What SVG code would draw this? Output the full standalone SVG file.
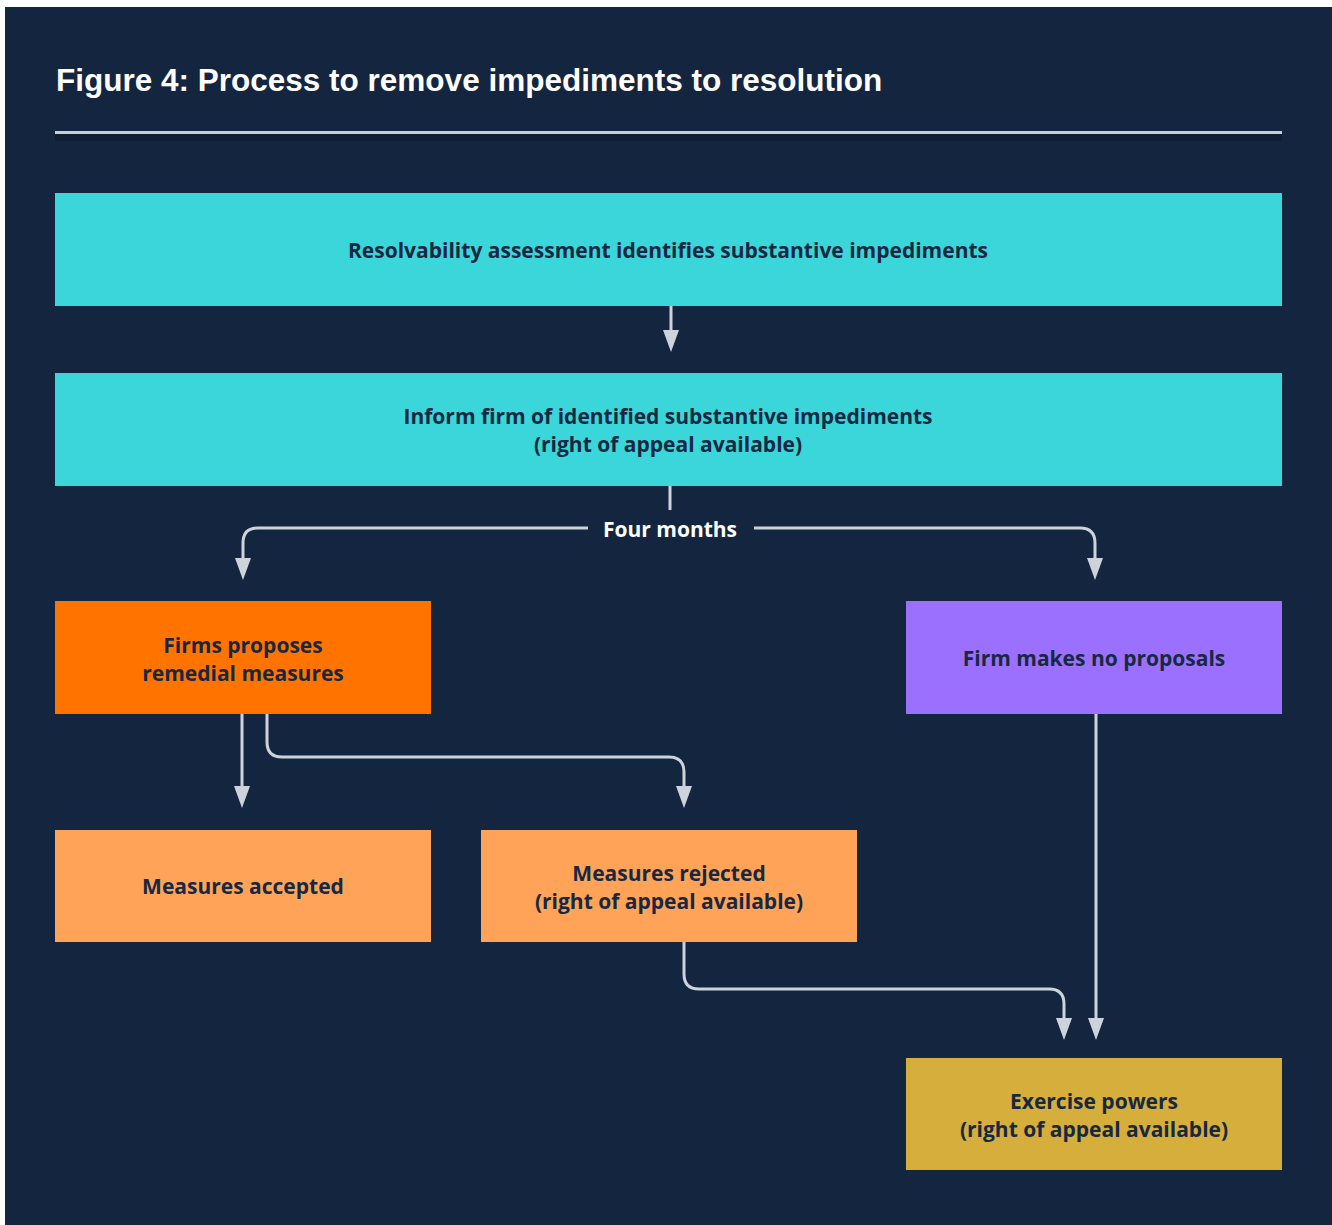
<svg xmlns="http://www.w3.org/2000/svg" width="1332" height="1225" viewBox="0 0 1332 1225">
  <style>
    .title { font-family: "Liberation Sans", Arial, sans-serif; font-weight: 700; font-size: 31.5px; fill: #ffffff; }
    .lbl { font-family: "Open Sans", Lato, sans-serif; font-weight: 700; font-size: 21px; fill: #172842; text-anchor: middle; }
    .wlbl { font-family: "Open Sans", Lato, sans-serif; font-weight: 700; font-size: 21px; fill: #ffffff; text-anchor: middle; }
    .conn { fill: none; stroke: #cdd3da; stroke-width: 3; }
  </style>
  <defs>
    <!-- downward-pointing head, 16 wide and 22 long, drawn along the path direction -->
    <marker id="arrow" viewBox="0 0 22 16" refX="1" refY="8" markerWidth="22" markerHeight="16" markerUnits="userSpaceOnUse" orient="auto">
      <path d="M0,0 L22,8 L0,16 Z" fill="#cdd3da"/>
    </marker>
  </defs>

  <!-- page -->
  <rect x="0" y="0" width="1332" height="1225" fill="#ffffff"/>
  <rect x="5" y="7" width="1327" height="1218" fill="#14263f"/>

  <!-- heading -->
  <text class="title" x="56" y="91">Figure 4: Process to remove impediments to resolution</text>
  <rect x="55" y="134" width="1227" height="7" fill="#0f1e33"/>
  <rect x="55" y="131" width="1227" height="3" fill="#c9ced6"/>

  <!-- connectors -->
  <g id="connectors">
    <path class="conn" d="M671,306 V331" marker-end="url(#arrow)"/>
    <path class="conn" d="M670,486 V510"/>
    <path class="conn" d="M588,528 H258 Q243,528 243,543 V559" marker-end="url(#arrow)"/>
    <path class="conn" d="M754,528 H1080 Q1095,528 1095,543 V559" marker-end="url(#arrow)"/>
    <path class="conn" d="M242,714 V787" marker-end="url(#arrow)"/>
    <path class="conn" d="M267,714 V742 Q267,757 282,757 H669 Q684,757 684,772 V787" marker-end="url(#arrow)"/>
    <path class="conn" d="M684,942 V974 Q684,989 699,989 H1049 Q1064,989 1064,1004 V1019" marker-end="url(#arrow)"/>
    <path class="conn" d="M1096,714 V1019" marker-end="url(#arrow)"/>
    <text class="wlbl" x="670" y="537">Four months</text>
  </g>

  <!-- nodes -->
  <g id="assessment">
    <rect x="55" y="193" width="1227" height="113" fill="#3bd6d9"/>
    <text class="lbl" x="668" y="258">Resolvability assessment identifies substantive impediments</text>
  </g>
  <g id="inform-firm">
    <rect x="55" y="373" width="1227" height="113" fill="#3bd6d9"/>
    <text class="lbl" x="668" y="424">Inform firm of identified substantive impediments</text>
    <text class="lbl" x="668" y="452">(right of appeal available)</text>
  </g>
  <g id="firm-proposes">
    <rect x="55" y="601" width="376" height="113" fill="#ff7400"/>
    <text class="lbl" x="243" y="653">Firms proposes</text>
    <text class="lbl" x="243" y="681">remedial measures</text>
  </g>
  <g id="no-proposals">
    <rect x="906" y="601" width="376" height="113" fill="#9c70ff"/>
    <text class="lbl" x="1094" y="666">Firm makes no proposals</text>
  </g>
  <g id="accepted">
    <rect x="55" y="830" width="376" height="112" fill="#ffa358"/>
    <text class="lbl" x="243" y="894">Measures accepted</text>
  </g>
  <g id="rejected">
    <rect x="481" y="830" width="376" height="112" fill="#ffa358"/>
    <text class="lbl" x="669" y="881">Measures rejected</text>
    <text class="lbl" x="669" y="909">(right of appeal available)</text>
  </g>
  <g id="exercise-powers">
    <rect x="906" y="1058" width="376" height="112" fill="#d5ae3b"/>
    <text class="lbl" x="1094" y="1109">Exercise powers</text>
    <text class="lbl" x="1094" y="1137">(right of appeal available)</text>
  </g>
</svg>
